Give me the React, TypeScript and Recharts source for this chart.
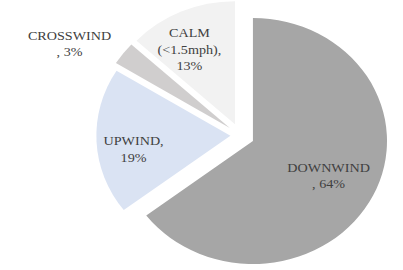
import { PieChart, Pie, Cell } from "recharts";

const categories = ["DOWNWIND", "UPWIND", "CROSSWIND", "CALM (<1.5mph)"];
const shares = [64, 19, 3, 13];
// where Excel wrapped each "name, value%" data label (character offsets)
const labelBreaks = [[8], [7], [9], [4, 15]];

const COLORS = ["#a6a6a6", "#dae3f3", "#d0cece", "#f2f2f2"];
const EXPLODE = [13, 9, 12, 12];
const LABEL_RADIUS = [0.63, 0.73, 1.38, 0.7];
const LABEL_TURN = [0, 5.6, 7.3, 5.4];

const W = 370;
const H = 270;
const CX = 220.4;
const CY = 135.2;
const R = 123;
const LINE_H = 16.5;
const RAD = Math.PI / 180;
const FONT = "Liberation Serif";

const data = categories.map((name, i) => ({ name, value: shares[i] }));
const total = shares.reduce((a, b) => a + b, 0);

// mid angle of each slice, recharts convention (ccw from 3 o'clock)
const midAngles = shares.map((v, i) => {
  const before = shares.slice(0, i).reduce((a, b) => a + b, 0);
  return 90 - ((before + v / 2) / total) * 360;
});

function labelLines(i: number) {
  const text = `${categories[i]}, ${shares[i]}%`;
  const cuts = [0, ...labelBreaks[i], text.length];
  return cuts.slice(1).map((c, k) => text.slice(cuts[k], c).trim());
}

const makeLabel = (own: number) => (props: any) => {
  if (props.index !== own) return null;
  const ang = (props.midAngle + LABEL_TURN[own]) * RAD;
  const r = props.outerRadius * LABEL_RADIUS[own];
  const x = props.cx + r * Math.cos(ang);
  const y = props.cy - r * Math.sin(ang);
  const lines = labelLines(own);
  const y0 = y - ((lines.length - 1) * LINE_H) / 2;
  return (
    <text
      key={`lbl-${own}`}
      x={x}
      y={y0}
      textAnchor="middle"
      dominantBaseline="central"
      fontFamily={FONT}
      fontSize={13}
      fill="#404040"
    >
      {lines.map((l, k) => (
        <tspan key={k} x={x} dy={k === 0 ? 0 : LINE_H} fontFamily={FONT}>
          {l}
        </tspan>
      ))}
    </text>
  );
};

export default function App() {
  return (
    <div
      style={{
        position: "absolute",
        left: 0,
        top: 0,
        width: W,
        height: H,
        transform: "scaleX(1.09)",
        transformOrigin: "0 0",
        background: "#fff",
        fontFamily: FONT,
      }}
    >
      <PieChart width={W} height={H} margin={{ top: 0, right: 0, bottom: 0, left: 0 }}>
        {data.map((_, own) => (
          <Pie
            key={own}
            data={data}
            dataKey="value"
            nameKey="name"
            cx={CX + EXPLODE[own] * Math.cos(midAngles[own] * RAD)}
            cy={CY - EXPLODE[own] * Math.sin(midAngles[own] * RAD)}
            innerRadius={0}
            outerRadius={R}
            startAngle={90}
            endAngle={-270}
            stroke="none"
            labelLine={false}
            label={makeLabel(own)}
            isAnimationActive={false}
          >
            {data.map((d, i) => (
              <Cell key={d.name} fill={i === own ? COLORS[i] : "none"} stroke="none" />
            ))}
          </Pie>
        ))}
      </PieChart>
    </div>
  );
}
